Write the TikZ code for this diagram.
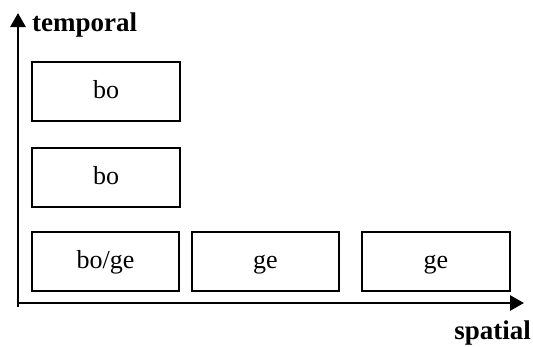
\documentclass[tikz,border=0pt]{standalone}
\usepackage{fontspec}
\setmainfont{Liberation Serif}
\usetikzlibrary{arrows.meta}
\begin{document}
\begin{tikzpicture}[x=1pt,y=-1pt,
  box/.style={draw=black,line width=1.6pt},
  cell/.style={anchor=base,inner sep=0pt,font=\fontsize{26}{30}\selectfont},
  axis/.style={line width=2.8pt,-{Triangle[width=15pt,length=14pt]}},
  axlabel/.style={font=\fontsize{27}{32}\selectfont\bfseries,inner sep=0pt}]
\useasboundingbox (0,0) rectangle (533,346);
\draw[box] (32,62) rectangle (180,121);
\draw[box] (32,148) rectangle (180,207);
\draw[box] (32,232) rectangle (179,291);
\draw[box] (192,232) rectangle (339,291);
\draw[box] (362,232) rectangle (510,291);
\node[cell] (b1) at (106,98) {bo};
\node[cell] (b2) at (106,184) {bo};
\node[cell] (b3) at (105.5,268.5) {bo/ge};
\node[cell] (b4) at (265.5,268.5) {ge};
\node[cell] (b5) at (436,268.5) {ge};
\coordinate (o) at (18,307);
\coordinate (ytop) at (18,13);
\coordinate (xl) at (16.6,303);
\coordinate (xr) at (524,303);
\draw[axis] (o) -- (ytop);
\draw[axis] (xl) -- (xr);
\node[axlabel,anchor=base west] (tl) at (32,31) {temporal};
\node[axlabel,anchor=base east] (sl) at (531,339) {spatial};
\end{tikzpicture}
\end{document}
